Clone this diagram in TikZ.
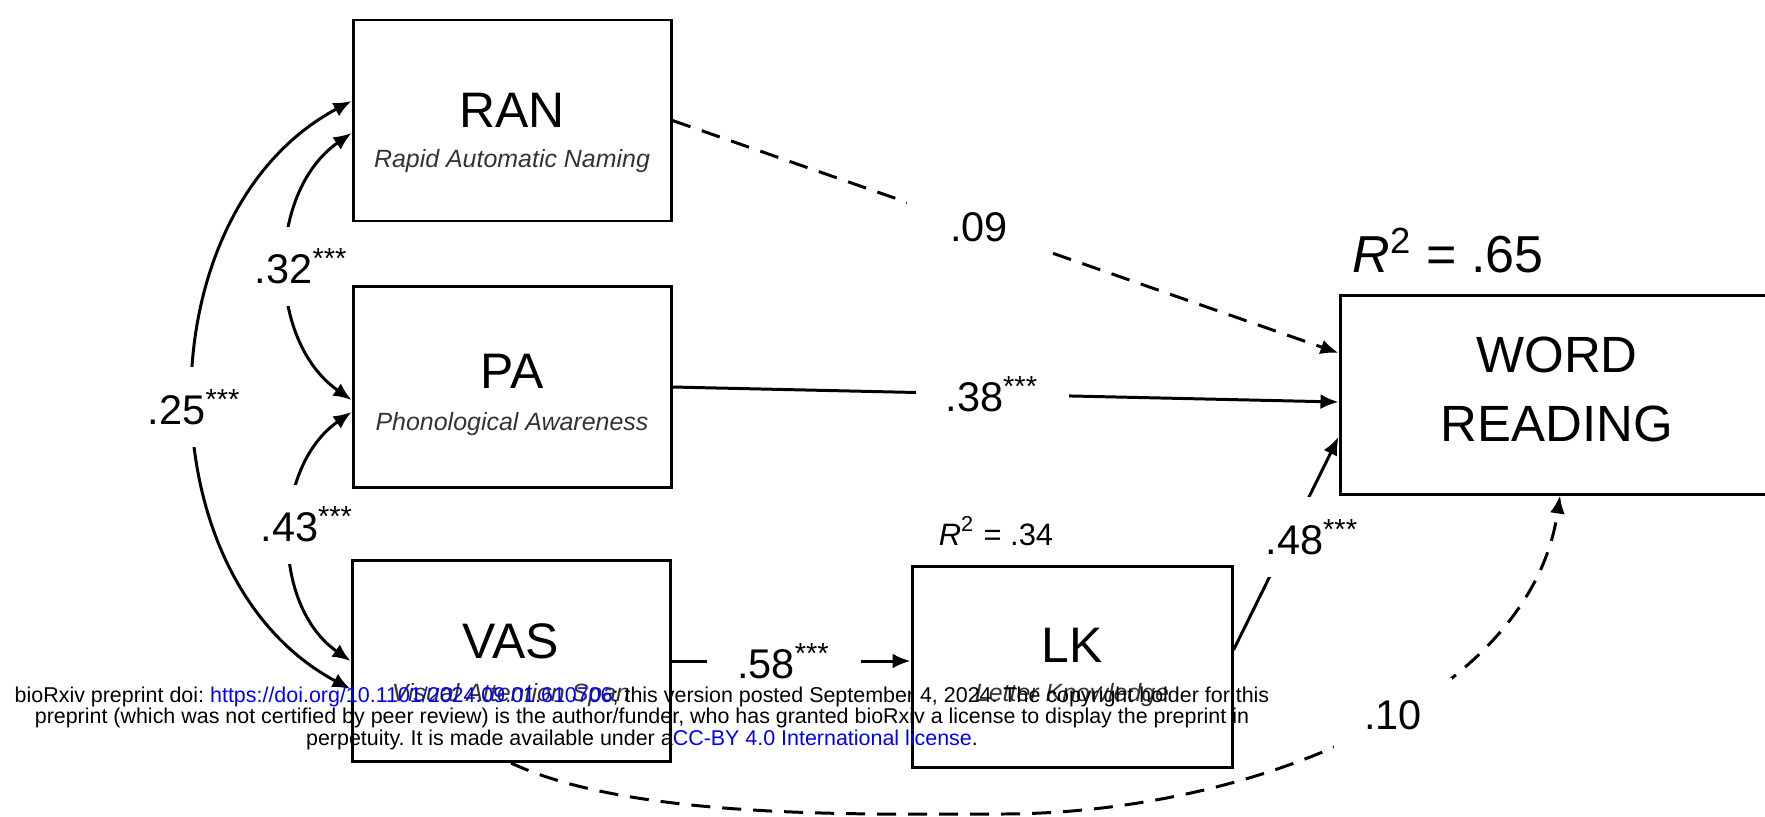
\documentclass[tikz,border=0pt]{standalone}
\usepackage{fontspec}
\setmainfont{Liberation Sans}
\usepackage{xcolor}
\definecolor{azulLink}{RGB}{0,0,255}
\usetikzlibrary{arrows.meta, positioning, backgrounds}
\frenchspacing

\tikzset{
  caja/.style={draw=black, line width=0.85pt, minimum width=3.18cm, minimum height=2.01cm, inner sep=0pt},
  titulo/.style={font=\fontsize{14.2}{16}\selectfont, anchor=base},
  subtit/.style={font=\fontsize{7.1}{8}\selectfont\itshape, text=black!80, anchor=base},
  flecha/.style={line width=0.85pt, -{Latex[length=0.18cm,width=0.15cm]}},
  cov/.style={line width=0.85pt, {Latex[length=0.18cm,width=0.15cm]}-{Latex[length=0.18cm,width=0.15cm]}},
  guion/.style={dash pattern=on 0.19cm off 0.12cm},
  coef/.style={fill=white, font=\fontsize{11.8}{13}\selectfont, inner xsep=0.3cm, inner ysep=0.22cm},
  coefcov/.style={coef, inner xsep=0.04cm},
  rcuad/.style={font=\fontsize{14.8}{16}\selectfont, anchor=base},
  marca/.style={font=\fontsize{6.1}{7}\selectfont, anchor=base},
}

\begin{document}
\begin{tikzpicture}
  \useasboundingbox (0,0) rectangle (17.65,8.16);
  % Cajas
  \node[caja] (ran) at (5.12,6.955) {};
  \node[caja] (pa) at (5.12,4.29) {};
  \node[caja] (vas) at (5.11,1.55) {};
  \node[caja, minimum width=3.20cm] (lk) at (10.72,1.495) {};
  \node[caja, minimum width=4.4cm, minimum height=1.99cm] (wr) at (15.6,4.215) {};
  % Textos de las cajas
  \node[titulo] (ranT) at (5.12,6.89) {RAN};
  \node[subtit] (ranS) at (5.12,6.49) {Rapid Automatic Naming};
  \node[titulo] (paT) at (5.12,4.28) {PA};
  \node[subtit] (paS) at (5.12,3.86) {Phonological Awareness};
  \node[titulo] (vasT) at (5.11,1.58) {VAS};
  \node[subtit] (vasS) at (5.11,1.15) {Visual Attention Span};
  \node[titulo] (lkT) at (10.72,1.54) {LK};
  \node[subtit] (lkS) at (10.72,1.15) {Letter Knowledge};
  \node[titulo, font=\fontsize{14.5}{16}\selectfont] (wrT1) at (15.57,4.44) {WORD};
  \node[titulo, font=\fontsize{14.5}{16}\selectfont] (wrT2) at (15.57,3.75) {READING};
  % R cuadrado
  \node[rcuad] (r2wr) at (14.48,5.44) {\textit{R}\textsuperscript{2} = .65};
  \node[rcuad, font=\fontsize{8.8}{10}\selectfont] (r2lk) at (9.96,2.71) {\textit{R}\textsuperscript{2} = .34};
  % Punto bajo de la curva VAS -> WR
  \coordinate (fondo) at (10.0,0.02);

  \begin{scope}[on background layer]
    % Efectos directos
    \draw[flecha, guion] (ran.east) -- node[coef, pos=.46, inner xsep=0.43cm] (c09) {.09}
      ([yshift=0.415cm]wr.west);
    \draw[flecha] (pa.east) -- node[coef, pos=.48] (c38) {.38\textsuperscript{***}}
      ([yshift=-0.075cm]wr.west);
    \draw[flecha] (vas.east) -- node[coef, pos=.47] (c58) {.58\textsuperscript{***}}
      (vas.east -| lk.west);
    \draw[flecha] ([yshift=0.165cm]lk.east) -- node[coef, pos=.53, xshift=0.23cm] (c48) {.48\textsuperscript{***}}
      ([yshift=-0.425cm]wr.west);
    \draw[flecha, guion] (vas.south) .. controls +(1.22,-0.57) and +(-1.35,0) .. (fondo)
      .. controls +(2.5,0) and +(-0.30,-2.06) .. node[coef, pos=.55] (c10) {.10} (wr.south);
    % Covarianzas
    \draw[cov] ([yshift=-0.125cm]ran.west) to[out=215, in=145]
      node[coefcov, xshift=0.14cm] (c32) {.32\textsuperscript{***}} ([yshift=-0.13cm]pa.west);
    \draw[cov] ([yshift=-0.25cm]pa.west) to[out=215, in=145]
      node[coefcov, xshift=0.16cm, yshift=0.12cm] (c43) {.43\textsuperscript{***}} (vas.west);
    \draw[cov] ([yshift=0.195cm]ran.west) to[out=208, in=152, looseness=1.03]
      node[coefcov, yshift=-0.12cm] (c25) {.25\textsuperscript{***}} ([yshift=-0.28cm]vas.west);
  \end{scope}

  % Marca de agua
  \node[marca] (wm1) at (6.42,1.14) {bioRxiv preprint doi: \textcolor{azulLink}{https://doi.org/10.1101/2024.09.01.610706}; this version posted September 4, 2024. The copyright holder for this};
  \node[marca] (wm2) at (6.42,0.93) {preprint (which was not certified by peer review) is the author/funder, who has granted bioRxiv a license to display the preprint in};
  \node[marca] (wm3) at (6.42,0.71) {perpetuity. It is made available under a\textcolor{azulLink}{CC-BY 4.0 International license}.};
\end{tikzpicture}
\end{document}
